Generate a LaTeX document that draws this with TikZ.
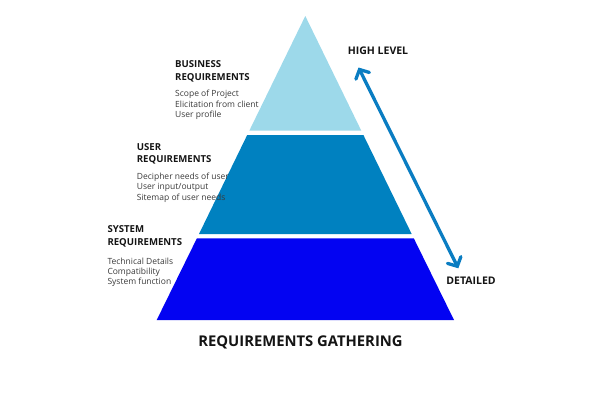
\documentclass[tikz,border=0pt]{standalone}
\usepackage{fontspec}
\setmainfont{Open Sans}
\usetikzlibrary{arrows.meta}
\definecolor{tiertop}{HTML}{9DD9EA}
\definecolor{tiermid}{HTML}{0081C0}
\definecolor{tierbase}{HTML}{0303F2}
\definecolor{arrowblue}{HTML}{0A7DC2}
\definecolor{headtext}{HTML}{141414}
\definecolor{listtext}{HTML}{3A3A3A}
\begin{document}
\begin{tikzpicture}[x=1pt,y=-1pt,
  heading/.style={anchor=west,inner sep=0pt,align=left,text=headtext,
    font=\fontsize{9.6}{12.4}\selectfont\bfseries},
  itemlist/.style={anchor=west,inner sep=0pt,align=left,text=listtext,
    font=\fontsize{8.5}{10.3}\selectfont},
  levellabel/.style={inner sep=0pt,text=headtext,font=\fontsize{10.5}{12}\selectfont\bfseries},
  levelarrow/.style={arrowblue,line width=3.3pt,line cap=round,
    {Straight Barb[length=7pt,width=15pt,line cap=round]}-{Straight Barb[length=7pt,width=15pt,line cap=round]}}]
\useasboundingbox (0,0) rectangle (600,400);
% pyramid tiers: one triangle, apex (305.3,16), base y=320 from 156.7 to 454
\fill[tiertop]  (305.3,16) -- (361.3,130.7) -- (249.3,130.7) -- cycle;
\fill[tiermid]  (247.2,135) -- (363.4,135) -- (411.7,234) -- (199.0,234) -- cycle;
\fill[tierbase] (196.9,238.3) -- (413.8,238.3) -- (454,320) -- (156.7,320) -- cycle;
% tier descriptions
\node[heading] (bh) at (175,71.2) {BUSINESS\\REQUIREMENTS};
\node[itemlist] (bl) at (175,104.8) {Scope of Project\\Elicitation from client\\User profile};
\node[heading] (uh) at (136.7,153.9) {USER\\REQUIREMENTS};
\node[itemlist] (ul) at (136.7,187.7) {Decipher needs of user\\User input/output\\Sitemap of user needs};
\node[heading] (sh) at (107.3,236.4) {SYSTEM\\REQUIREMENTS};
\node[itemlist] (sl) at (107.3,272.3) {Technical Details\\Compatibility\\System function};
% level scale
\node[levellabel] (high) at (378,50.7) {HIGH LEVEL};
\node[levellabel] (detail) at (471,280.7) {DETAILED};
\coordinate (up) at (358.5,67.5);
\coordinate (down) at (458.3,268.3);
\draw[levelarrow] (up) -- (down);
% title
\node[inner sep=0pt,text=headtext,font=\fontsize{14.8}{18}\selectfont\bfseries] (title) at (300.5,342.7) {REQUIREMENTS GATHERING};
\end{tikzpicture}
\end{document}
